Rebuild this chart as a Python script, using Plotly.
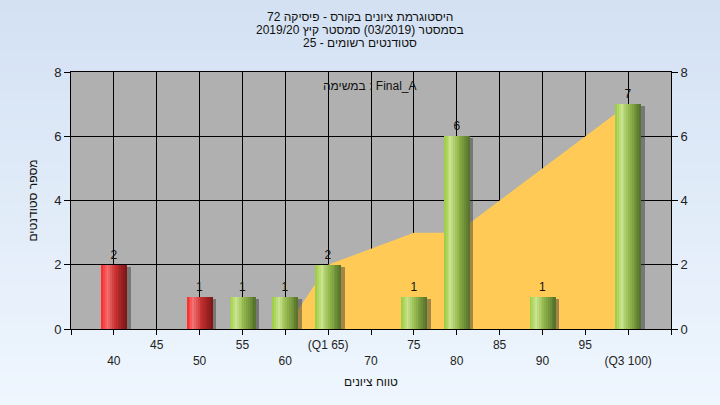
import plotly.graph_objects as go

# ---- data ----
grades = [40, 45, 50, 55, 60, 65, 70, 75, 80, 85, 90, 95, 100]
counts = [2, 0, 1, 1, 1, 2, 0, 1, 6, 0, 1, 0, 7]
tick_labels = ["40", "45", "50", "55", "60", "(Q1 65)", "70", "75", "80", "85", "90", "95", "(Q3 100)"]
area_x = [60, 65, 70, 75, 80, 85, 90, 95, 100]
area_y = [0, 2, 2.5, 3, 3, 4, 5, 6, 7]
fail_below = 55

title_lines = ["היסטוגרמת ציונים בקורס - פיסיקה 72",
               "בסמסטר (03/2019) סמסטר קיץ 2019/20",
               "סטודנטים רשומים - 25"]
task_label = "במשימה : Final_A"
x_title = "טווח ציונים"
y_title = "מספר סטודנטים"

FONT = "Liberation Sans, Arial, sans-serif"
W = 3.0
N = 14

def lerp(c1, c2, t):
    return tuple(int(round(a + (b - a) * t)) for a, b in zip(c1, c2))

def grad(stops, t):
    for (t0, c0), (t1, c1) in zip(stops, stops[1:]):
        if t <= t1:
            return lerp(c0, c1, (t - t0) / (t1 - t0) if t1 > t0 else 0)
    return stops[-1][1]

def hx(h):
    h = h.lstrip('#')
    return tuple(int(h[i:i + 2], 16) for i in (0, 2, 4))

green = [(0, hx('#9acb3e')), (0.25, hx('#c9e38e')), (0.55, hx('#93b84c')), (1, hx('#546f2a'))]
red = [(0, hx('#ff2424')), (0.25, hx('#f27272')), (0.55, hx('#c83030')), (1, hx('#7a1616'))]

bx = [g for g, c in zip(grades, counts) if c > 0]
by = [c for c in counts if c > 0]
isred = [g < fail_below for g in bx]

fig = go.Figure()

# area (primary axes -> drawn beneath the overlaid bar subplot)
fig.add_trace(go.Scatter(x=area_x, y=area_y, fill='tozeroy', mode='lines',
                         line=dict(color='#ffca55', width=0), fillcolor='#ffca55',
                         hoverinfo='skip', showlegend=False))
# shadows
fig.add_trace(go.Bar(x=bx, y=[v - 0.06 for v in by], width=W, offset=-W / 2 + 0.45, yaxis='y2',
                     marker=dict(color='rgba(50,50,50,0.45)', line=dict(width=0)),
                     hoverinfo='skip', showlegend=False))
# gradient strips
for i in range(N):
    t = (i + 0.5) / N
    cols = ['rgb(%d,%d,%d)' % grad(red if r else green, t) for r in isred]
    fig.add_trace(go.Bar(x=bx, y=by, width=W / N * 1.15, offset=-W / 2 + i * W / N, yaxis='y2',
                         marker=dict(color=cols, line=dict(width=0)),
                         hoverinfo='skip', showlegend=False))
# labels
fig.add_trace(go.Bar(x=bx, y=by, width=W, text=[str(v) for v in by], yaxis='y2',
                     textposition='outside', textfont=dict(family=FONT, size=12, color='#111'),
                     marker=dict(color='rgba(0,0,0,0)', line=dict(width=0)),
                     cliponaxis=False, showlegend=False))

tv = [35] + grades + [105]
tt = [""] + [("<br>" + l) if i % 2 == 0 else l for i, l in enumerate(tick_labels)] + [""]

# background gradient
shapes = []
S = 40
y_top, y_bot = 1 + 72 / 257, -76 / 257
c_top, c_bot = hx('#d3e1f3'), hx('#eff6fe')
for i in range(S):
    y0 = y_bot + (y_top - y_bot) * i / S
    y1 = y_bot + (y_top - y_bot) * (i + 1) / S + 0.002
    c = lerp(c_bot, c_top, (i + 0.5) / S)
    shapes.append(dict(type='rect', xref='paper', yref='paper', x0=-0.2, x1=1.2, y0=y0, y1=y1,
                       fillcolor='rgb(%d,%d,%d)' % c, line=dict(width=0), layer='below'))
shapes.append(dict(type='rect', xref='paper', yref='paper', x0=0, x1=1, y0=0, y1=1,
                   fillcolor='#b0b0b0', line=dict(width=0), layer='below'))

annotations = []
for k, (line, py) in enumerate(zip(title_lines, [17, 30, 43])):
    annotations.append(dict(text=line, xref='paper', yref='paper', x=(360 - 71) / 600,
                            y=(329 - py) / 257, showarrow=False, xanchor='center', yanchor='middle',
                            font=dict(family=FONT, size=12, color='#111')))
annotations.append(dict(text=task_label, xref='paper', yref='paper', x=(370 - 71) / 600,
                        y=(329 - 86) / 257, showarrow=False, xanchor='center', yanchor='middle',
                        font=dict(family=FONT, size=12, color='#111')))

fig.update_layout(
    width=720, height=405,
    margin=dict(l=71, r=49, t=72, b=76),
    paper_bgcolor='#e2ebf8', plot_bgcolor='rgba(0,0,0,0)',
    barmode='overlay', bargap=0,
    font=dict(family=FONT, size=12, color='#222'),
    shapes=shapes, annotations=annotations,
    xaxis=dict(range=[35, 105], tickmode='array', tickvals=tv, ticktext=tt,
               showgrid=True, gridcolor='black', gridwidth=1, ticks='outside', ticklen=5,
               tickcolor='black', showline=True, linecolor='black', linewidth=1, mirror=True,
               zeroline=False, tickangle=0,
               title=dict(text=x_title, font=dict(family=FONT, size=12, color='#111'), standoff=10)),
    yaxis=dict(range=[0, 8], dtick=2, showgrid=True, gridcolor='black', gridwidth=1,
               ticks='outside', ticklen=6, tickcolor='black', showline=True, linecolor='black',
               linewidth=1, zeroline=False, tickfont=dict(size=13),
               title=dict(text=y_title, font=dict(family=FONT, size=12, color='#111'), standoff=13)),
    yaxis2=dict(range=[0, 8], dtick=2, overlaying='y', side='right', showgrid=False,
                ticks='outside', ticklen=6, tickcolor='black', showline=True, linecolor='black',
                zeroline=False, tickfont=dict(size=13)),
)

fig.write_html("out.html", config={'displayModeBar': False},
               post_script="document.body.style.margin='0';document.body.style.padding='0';")
